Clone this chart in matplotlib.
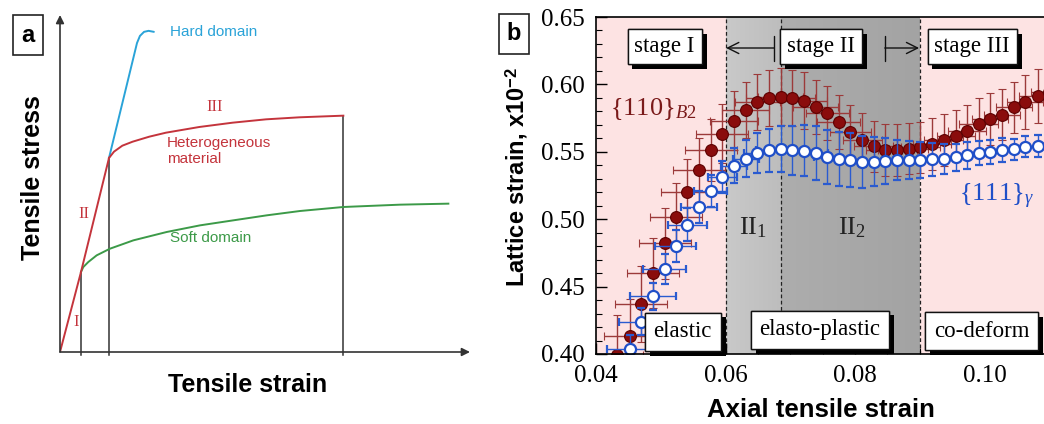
import numpy as np
import matplotlib.pyplot as plt
import matplotlib.patheffects as pe
from matplotlib.colors import LinearSegmentedColormap
from matplotlib.patches import ArrowStyle
from matplotlib.ticker import MultipleLocator

plt.rcParams['font.family'] = ['Liberation Sans', 'DejaVu Sans']
plt.rcParams['mathtext.fontset'] = 'custom'
plt.rcParams['mathtext.rm'] = 'Liberation Serif'
plt.rcParams['mathtext.it'] = 'Liberation Serif:italic'
plt.rcParams['mathtext.bf'] = 'Liberation Sans:bold'

# ---- panel a: schematic curves (normalised strain / stress) ----
elastic_x = [0.0, 0.0512, 0.1195]
elastic_y = [0.0, 0.2374, 0.5757]
hard_x = [0.1195, 0.1878, 0.195, 0.205, 0.216, 0.229]
hard_y = [0.5757, 0.9169, 0.938, 0.950, 0.953, 0.950]
hetero_x = [0.1195, 0.1317, 0.1520, 0.1772, 0.2179, 0.2585, 0.3398, 0.4211, 0.5024, 0.5837, 0.6911]
hetero_y = [0.5757, 0.5945, 0.6122, 0.6241, 0.6390, 0.6508, 0.6677, 0.6805, 0.6904, 0.6964, 0.7013]
soft_x = [0.0512, 0.0569, 0.0691, 0.0894, 0.1220, 0.1789, 0.2602, 0.3415, 0.4228, 0.5041, 0.5854, 0.6911, 0.8293, 0.9472]
soft_y = [0.2374, 0.2522, 0.2671, 0.2868, 0.3066, 0.3313, 0.3561, 0.3758, 0.3907, 0.4055, 0.4184, 0.4303, 0.4372, 0.4402]
stage_lines_x = [0.0512, 0.1195, 0.6911]
stage_lines_top = [0.2374, 0.5757, 0.7013]

# ---- panel b: lattice strain vs axial strain ----
b2_strain = [0.0432, 0.0452, 0.0470, 0.0488, 0.0506, 0.0523, 0.0541, 0.0559, 0.0577, 0.0595,
             0.0613, 0.0631, 0.0649, 0.0667, 0.0685, 0.0703, 0.0721, 0.0739, 0.0757, 0.0775,
             0.0793, 0.0811, 0.0829, 0.0847, 0.0865, 0.0883, 0.0901, 0.0919, 0.0937, 0.0956,
             0.0973, 0.0991, 0.1009, 0.1027, 0.1045, 0.1063, 0.1082, 0.1100]
b2_lattice = [0.399, 0.413, 0.437, 0.460, 0.482, 0.502, 0.520, 0.5365, 0.551, 0.5635,
              0.573, 0.581, 0.587, 0.590, 0.591, 0.590, 0.588, 0.5835, 0.5785, 0.572,
              0.5645, 0.559, 0.554, 0.5513, 0.5513, 0.5523, 0.5533, 0.5558, 0.5588, 0.562,
              0.5657, 0.5706, 0.5743, 0.5775, 0.583, 0.587, 0.5914, 0.594]
b2_yerr = [0.030, 0.028, 0.028, 0.026, 0.026, 0.025, 0.025, 0.024, 0.023, 0.022,
           0.022, 0.021, 0.021, 0.021, 0.021, 0.021, 0.021, 0.020, 0.020, 0.020,
           0.020, 0.020, 0.019, 0.019, 0.019, 0.019, 0.019, 0.019, 0.019, 0.019,
           0.019, 0.019, 0.019, 0.019, 0.019, 0.020, 0.020, 0.020]
b2_xerr = [0.004, 0.004, 0.004, 0.004, 0.004, 0.004, 0.004, 0.004, 0.004, 0.004,
           0.0037, 0.0036, 0.0035, 0.0035, 0.0035, 0.0035, 0.0035, 0.0035, 0.0033, 0.0033,
           0.0032, 0.003, 0.003, 0.003, 0.003, 0.003, 0.003, 0.003, 0.003, 0.003,
           0.003, 0.003, 0.0028, 0.0028, 0.0028, 0.0028, 0.0028, 0.0028]

fcc_strain = [0.0452, 0.0470, 0.0488, 0.0506, 0.0523, 0.0541, 0.0559, 0.0577, 0.0595,
              0.0613, 0.0631, 0.0649, 0.0667, 0.0685, 0.0703, 0.0721, 0.0739, 0.0757, 0.0775,
              0.0793, 0.0811, 0.0829, 0.0847, 0.0865, 0.0883, 0.0901, 0.0919, 0.0937, 0.0956,
              0.0973, 0.0991, 0.1009, 0.1027, 0.1045, 0.1063, 0.1082, 0.1100]
fcc_lattice = [0.4038, 0.424, 0.443, 0.463, 0.480, 0.496, 0.509, 0.521, 0.5315,
               0.5395, 0.545, 0.549, 0.551, 0.552, 0.551, 0.5508, 0.5493, 0.5464, 0.5449,
               0.5439, 0.5424, 0.5427, 0.5432, 0.5439, 0.5439, 0.5439, 0.5444, 0.5449, 0.5459,
               0.5476, 0.5489, 0.5501, 0.5513, 0.5518, 0.5538, 0.5543, 0.555]
fcc_yerr = [0.010, 0.010, 0.010, 0.011, 0.012, 0.012, 0.012, 0.012, 0.012,
            0.013, 0.014, 0.015, 0.016, 0.017, 0.018, 0.019, 0.020, 0.020, 0.020,
            0.020, 0.019, 0.018, 0.017, 0.015, 0.014, 0.013, 0.012, 0.011, 0.010,
            0.010, 0.009, 0.009, 0.009, 0.008, 0.008, 0.008, 0.008]
fcc_xerr = [0.0035, 0.0035, 0.0035, 0.0033, 0.0032, 0.003, 0.0028, 0.0025, 0.0022,
            0.002, 0.002, 0.002, 0.002, 0.002, 0.002, 0.002, 0.002, 0.002, 0.0018,
            0.0018, 0.0018, 0.0018, 0.0016, 0.0016, 0.0016, 0.0016, 0.0016, 0.0016, 0.0016,
            0.0016, 0.0016, 0.0016, 0.0016, 0.0016, 0.0016, 0.0016, 0.0016]

stage_bounds = [0.04, 0.06, 0.0686, 0.09, 0.12]
xticks_b = [0.04, 0.06, 0.08, 0.10]
yticks_b = [0.40, 0.45, 0.50, 0.55, 0.60, 0.65]

W, H = 1044, 424
fig = plt.figure(figsize=(W / 100, H / 100), dpi=100)


def px_box(l, t, r, b):
    return [l / W, 1 - b / H, (r - l) / W, (b - t) / H]


# ================= panel a =================
red = '#c4343c'
axa = fig.add_axes(px_box(60, 15, 470, 352))
axa.set_xlim(0, 1)
axa.set_ylim(0, 1)
axa.axis('off')
axa.annotate('', xy=(0, 1.0), xytext=(0, 0), xycoords='axes fraction',
             arrowprops=dict(arrowstyle='-|>', color='#333333', lw=1.2, mutation_scale=12,
                             shrinkA=0, shrinkB=0))
axa.annotate('', xy=(1.0, 0), xytext=(0, 0), xycoords='axes fraction',
             arrowprops=dict(arrowstyle='-|>', color='#333333', lw=1.2, mutation_scale=12,
                             shrinkA=0, shrinkB=0))
for xv, top in zip(stage_lines_x, stage_lines_top):
    axa.plot([xv, xv], [-0.01, top], color='#333333', lw=1.1, clip_on=False)
axa.plot(hard_x, hard_y, color='#2aa3d8', lw=1.4, solid_capstyle='round')
axa.plot(soft_x, soft_y, color='#3c9a48', lw=1.4)
axa.plot(hetero_x, hetero_y, color=red, lw=1.4)
axa.plot(elastic_x, elastic_y, color=red, lw=1.4)

axa.text(0.268, 0.949, 'Hard domain', color='#2aa3d8', fontsize=11, va='center')
axa.text(0.378, 0.728, 'III', color=red, fontsize=12, family='Liberation Serif', ha='center', va='center')
axa.text(0.261, 0.597, 'Heterogeneous\nmaterial', color=red, fontsize=11, va='center', linespacing=1.15)
axa.text(0.059, 0.410, 'II', color=red, fontsize=12, family='Liberation Serif', ha='center', va='center')
axa.text(0.268, 0.337, 'Soft domain', color='#3c9a48', fontsize=11, va='center')
axa.text(0.039, 0.089, 'I', color=red, fontsize=12, family='Liberation Serif', ha='center', va='center')

fig.text(33 / W, 1 - 178 / H, 'Tensile stress', rotation=90, fontsize=18, fontweight='bold',
         ha='center', va='center')
fig.text(248 / W, 1 - 385 / H, 'Tensile strain', fontsize=18, fontweight='bold',
         ha='center', va='center')
fig.text(28 / W, 1 - 35 / H, 'a', fontsize=17, fontweight='bold', ha='center', va='center',
         bbox=dict(boxstyle='square,pad=0.35', fc='white', ec='#222222', lw=1.2))

# ================= panel b =================
axb = fig.add_axes(px_box(596, 17, 596 + 0.08 * 6475, 354))
axb.set_xlim(0.04, 0.12)
axb.set_ylim(0.40, 0.65)

axb.axvspan(stage_bounds[0], stage_bounds[1], color='#fde3e3', lw=0, zorder=0)
axb.axvspan(stage_bounds[3], stage_bounds[4], color='#fde3e3', lw=0, zorder=0)
grad = np.linspace(0, 1, 50).reshape(1, -1)
axb.imshow(grad, extent=[stage_bounds[1], stage_bounds[2], 0.40, 0.65], aspect='auto',
           cmap=LinearSegmentedColormap.from_list('g1', ['#c9c9c9', '#bdbdbd']), zorder=0)
axb.imshow(grad, extent=[stage_bounds[2], stage_bounds[3], 0.40, 0.65], aspect='auto',
           cmap=LinearSegmentedColormap.from_list('g2', ['#adadad', '#a3a3a3']), zorder=0)
for xv in stage_bounds[1:4]:
    axb.axvline(xv, color='#222222', lw=0.9, ls=(0, (3, 2)), zorder=1)

axb.errorbar(b2_strain, b2_lattice, xerr=b2_xerr, yerr=b2_yerr, fmt='o', ms=8.5,
             mfc='#8a0c0c', mec='#5c0000', mew=0.8, ecolor='#9c3a3a', elinewidth=1.0,
             capsize=3, capthick=1.0, zorder=3)
axb.errorbar(fcc_strain, fcc_lattice, xerr=fcc_xerr, yerr=fcc_yerr, fmt='o', ms=8,
             mfc='white', mec='#1f4fc8', mew=1.6, ecolor='#2a5bd0', elinewidth=1.0,
             capsize=3, capthick=1.0, zorder=4)

axb.set_xticks(xticks_b)
axb.set_xticklabels(['%.2f' % v for v in xticks_b])
axb.set_yticks(yticks_b)
axb.set_yticklabels(['%.2f' % v for v in yticks_b])
axb.xaxis.set_minor_locator(MultipleLocator(0.005))
axb.yaxis.set_minor_locator(MultipleLocator(0.01))
axb.tick_params(which='both', direction='in', top=False, right=False)
axb.tick_params(which='major', length=8, width=1)
axb.tick_params(which='minor', length=4, width=0.8)
axb.tick_params(axis='both', labelsize=18, pad=8)
for lab in axb.get_xticklabels() + axb.get_yticklabels():
    lab.set_family('Liberation Serif')
for s in axb.spines.values():
    s.set_linewidth(1.2)
    s.set_zorder(6)

serif = 'Liberation Serif'


def shadow_box(x, y, s, pad=0.3):
    t = axb.text(x, y, s, fontsize=16.5, family=serif, ha='center', va='center', zorder=7,
                 bbox=dict(boxstyle='square,pad=%g' % pad, fc='white', ec='#111111', lw=1.0))
    t.get_bbox_patch().set_path_effects([
        pe.withSimplePatchShadow(offset=(3.5, -3.5), shadow_rgbFace='black', alpha=1.0),
        pe.Normal()])
    return t


shadow_box(0.0506, 0.628, 'stage I')
shadow_box(0.0748, 0.628, 'stage II')
shadow_box(0.0981, 0.628, 'stage III')
shadow_box(0.0534, 0.4165, 'elastic', 0.38)
shadow_box(0.0746, 0.418, 'elasto-plastic', 0.38)
shadow_box(0.0996, 0.417, 'co-deform', 0.38)

arrow_kw = dict(arrowstyle=ArrowStyle(']->', widthA=0.45, lengthA=0.0),
                color='#111111', lw=1.0, shrinkA=0, shrinkB=0, mutation_scale=20)
axb.annotate('', xy=(0.0601, 0.627), xytext=(0.0675, 0.627), arrowprops=arrow_kw, zorder=7)
axb.annotate('', xy=(0.0899, 0.627), xytext=(0.0846, 0.627), arrowprops=arrow_kw, zorder=7)

axb.text(0.0642, 0.494, r'$\mathrm{II}_1$', fontsize=19, ha='center', va='center', color='#222222')
axb.text(0.0795, 0.494, r'$\mathrm{II}_2$', fontsize=19, ha='center', va='center', color='#222222')
axb.text(0.0422, 0.582, r'$\{110\}_{B2}$', fontsize=19, color='#7a1a1a', va='center')
axb.text(0.0960, 0.517, r'$\{111\}_{\gamma}$', fontsize=19, color='#1f4fc8', va='center')

fig.text(517 / W, 1 - 177 / H, r'Lattice strain, x10$^{\mathbf{-2}}$', rotation=90, fontsize=17,
         fontweight='bold', ha='center', va='center')
fig.text(821 / W, 1 - 410 / H, 'Axial tensile strain', fontsize=18.5, fontweight='bold',
         ha='center', va='center')
fig.text(514 / W, 1 - 34 / H, 'b', fontsize=17, fontweight='bold', ha='center', va='center',
         bbox=dict(boxstyle='square,pad=0.35', fc='white', ec='#222222', lw=1.2))

fig.savefig('out.png', dpi=100)
